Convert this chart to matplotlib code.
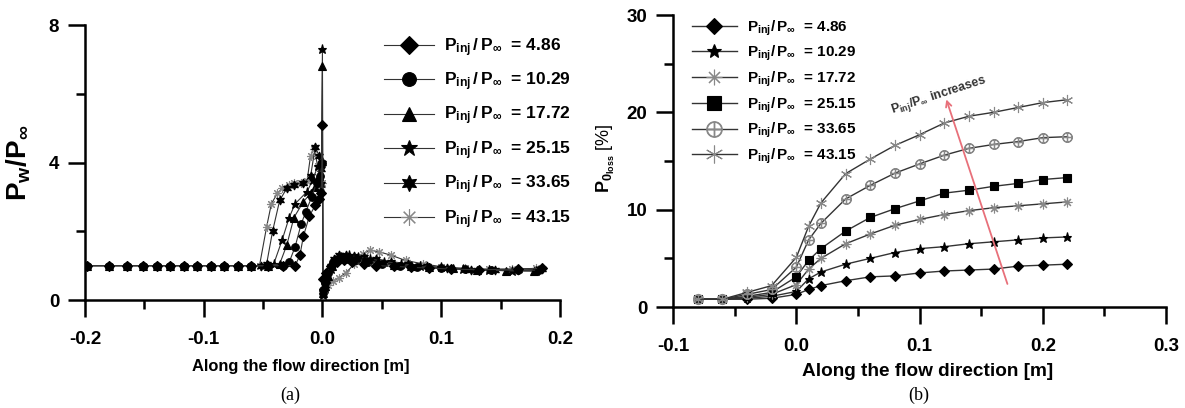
import numpy as np
import matplotlib
matplotlib.use("Agg")
import matplotlib.pyplot as plt
from matplotlib.ticker import AutoMinorLocator, MultipleLocator

plt.rcParams['font.family'] = ['Liberation Sans', 'DejaVu Sans']
plt.rcParams['font.weight'] = 'bold'
plt.rcParams['mathtext.fontset'] = 'custom'
plt.rcParams['mathtext.rm'] = 'Liberation Sans:bold'
plt.rcParams['mathtext.it'] = 'Liberation Sans:bold'
plt.rcParams['mathtext.bf'] = 'Liberation Sans:bold'
plt.rcParams['mathtext.default'] = 'bf'

# -------- (a) wall pressure ----------
ratios = ["4.86", "10.29", "17.72", "25.15", "33.65", "43.15"]

xu = [-0.198, -0.180, -0.165, -0.151, -0.139, -0.128, -0.117, -0.106,
      -0.094, -0.083, -0.071, -0.060]
yu = [1.0] * len(xu)

xa_486 = xu + [-0.046, -0.033, -0.023, -0.019, -0.016, -0.011, -0.006, -0.003, -0.001, 0.0,
               0.0004, 0.003, 0.007, 0.012, 0.018, 0.025, 0.035, 0.045, 0.06, 0.075,
               0.09, 0.108, 0.132, 0.165, 0.185]
ya_486 = yu + [1.0, 1.0, 1.0, 1.3, 1.86, 2.44, 2.76, 2.95, 3.1, 5.1,
               0.6, 0.8, 1.0, 1.1, 1.15, 1.1, 1.05, 1.0, 0.98, 0.95,
               0.93, 0.9, 0.88, 0.9, 0.92]

xa_1029 = xu + [-0.046, -0.033, -0.028, -0.023, -0.018, -0.014, -0.009, -0.005, -0.002, 0.0,
                0.0004, 0.002, 0.005, 0.009, 0.014, 0.02, 0.028, 0.038, 0.05, 0.065,
                0.08, 0.1, 0.12, 0.142, 0.165, 0.182]
ya_1029 = yu + [1.0, 1.0, 1.1, 1.55, 2.2, 2.57, 3.0, 3.4, 3.6, 4.0,
                0.3, 0.5, 0.8, 1.1, 1.2, 1.2, 1.15, 1.1, 1.05, 1.0,
                0.97, 0.93, 0.9, 0.88, 0.86, 0.87]

xa_1772 = xu + [-0.046, -0.036, -0.030, -0.024, -0.016, -0.010, -0.006, -0.003, -0.001, 0.0,
                0.0004, 0.002, 0.005, 0.008, 0.012, 0.018, 0.025, 0.035, 0.047, 0.06,
                0.075, 0.09, 0.11, 0.13, 0.155, 0.178]
ya_1772 = yu + [1.0, 1.05, 1.6, 2.4, 2.86, 3.1, 3.3, 3.6, 3.2, 6.8,
                0.2, 0.4, 0.7, 1.0, 1.2, 1.25, 1.2, 1.15, 1.1, 1.02,
                0.98, 0.95, 0.92, 0.88, 0.85, 0.84]

xa_2515 = xu + [-0.046, -0.041, -0.034, -0.028, -0.023, -0.013, -0.008, -0.004, -0.001, 0.0,
                0.0004, 0.002, 0.004, 0.007, 0.011, 0.016, 0.022, 0.03, 0.04, 0.052,
                0.066, 0.082, 0.1, 0.118, 0.14, 0.16, 0.18]
ya_2515 = yu + [1.0, 1.05, 1.74, 2.4, 2.8, 3.15, 3.5, 3.9, 3.4, 7.3,
                0.15, 0.35, 0.6, 0.9, 1.15, 1.25, 1.3, 1.25, 1.2, 1.12,
                1.05, 1.0, 0.95, 0.9, 0.87, 0.85, 0.85]

xa_3365 = xu + [-0.052, -0.047, -0.042, -0.036, -0.030, -0.024, -0.016, -0.010, -0.006, -0.003,
                -0.001, 0.0, 0.0004, 0.002, 0.004, 0.007, 0.010, 0.014, 0.02, 0.027,
                0.035, 0.045, 0.058, 0.072, 0.088, 0.105, 0.125, 0.145, 0.165, 0.185]
ya_3365 = yu + [1.0, 1.05, 2.0, 2.9, 3.25, 3.35, 3.4, 3.6, 4.46, 4.2,
                3.8, 4.0, 0.25, 0.45, 0.7, 1.0, 1.2, 1.3, 1.3, 1.28,
                1.25, 1.2, 1.12, 1.05, 0.98, 0.92, 0.88, 0.86, 0.87, 0.9]

xa_4315 = xu + [-0.053, -0.047, -0.043, -0.038, -0.034, -0.028, -0.024, -0.018, -0.013, -0.010,
                -0.007, -0.004, -0.001, 0.0, 0.0004, 0.002, 0.005, 0.009, 0.014, 0.02,
                0.027, 0.034, 0.04, 0.048, 0.058, 0.07, 0.085, 0.1, 0.12, 0.14,
                0.16, 0.18]
ya_4315 = yu + [1.0, 2.13, 2.8, 3.1, 3.25, 3.35, 3.41, 3.4, 3.45, 4.2,
                4.4, 3.9, 3.3, 3.4, 0.2, 0.3, 0.45, 0.55, 0.65, 0.8,
                1.05, 1.35, 1.45, 1.4, 1.3, 1.15, 1.05, 0.97, 0.92, 0.9,
                0.9, 0.92]

# -------- (b) total pressure loss ----------
xb = [-0.08, -0.06, -0.04, -0.02, 0.0, 0.01, 0.02, 0.04, 0.06, 0.08,
      0.10, 0.12, 0.14, 0.16, 0.18, 0.20, 0.22]
b_486 = [0.8, 0.8, 0.8, 0.9, 1.3, 1.8, 2.2, 2.7, 3.1, 3.2, 3.5, 3.7, 3.8, 3.9, 4.2, 4.3, 4.4]
b_1029 = [0.8, 0.8, 0.9, 1.1, 1.6, 2.9, 3.6, 4.4, 5.0, 5.6, 6.0, 6.2, 6.5, 6.7, 6.9, 7.1, 7.2]
b_1772 = [0.8, 0.8, 1.0, 1.3, 2.3, 3.9, 5.0, 6.5, 7.5, 8.4, 9.0, 9.5, 9.9, 10.2, 10.4, 10.6, 10.8]
b_2515 = [0.8, 0.8, 1.1, 1.5, 3.1, 4.8, 6.0, 7.8, 9.2, 10.1, 10.9, 11.7, 12.0, 12.4, 12.7, 13.1, 13.3]
b_3365 = [0.8, 0.8, 1.3, 1.8, 4.1, 6.9, 8.6, 11.1, 12.5, 13.75, 14.7, 15.6, 16.3, 16.7, 17.0, 17.4, 17.5]
b_4315 = [0.8, 0.8, 1.5, 2.2, 5.1, 8.3, 10.7, 13.7, 15.2, 16.6, 17.7, 18.9, 19.6, 20.0, 20.5, 21.0, 21.3]


def style_axes(ax):
    for s in ['top', 'right']:
        ax.spines[s].set_visible(False)
    for s in ['left', 'bottom']:
        ax.spines[s].set_linewidth(1.8)
    ax.xaxis.set_minor_locator(AutoMinorLocator(2))
    ax.yaxis.set_minor_locator(AutoMinorLocator(2))
    ax.tick_params(which='major', direction='out', length=12.5, width=1.8, labelsize=13.5)
    ax.tick_params(which='minor', direction='out', length=6.5, width=1.8)
    ax.tick_params(axis='x', which='major', pad=10)
    ax.tick_params(axis='y', which='major', pad=6)
    for lab in ax.get_xticklabels() + ax.get_yticklabels():
        lab.set_fontweight('bold')


fig = plt.figure(figsize=(11.85, 4.08), dpi=100)

# -------- Plot (a) ----------
ax1 = fig.add_axes([0.0717, 0.2647, 0.4008, 0.674])
a_x = [xa_486, xa_1029, xa_1772, xa_2515, xa_3365, xa_4315]
a_y = [ya_486, ya_1029, ya_1772, ya_2515, ya_3365, ya_4315]
a_mk = ['D', 'o', '^', '*', (6, 1, 0), (8, 2, 0)]
a_ms = [5, 5.5, 5.5, 6.5, 6.5, 6.5]
a_col = ['black', 'black', 'black', 'black', 'black', '#888888']
for i, (xs, ys, mk, ms, c, r) in enumerate(zip(a_x, a_y, a_mk, a_ms, a_col, ratios)):
    ax1.plot(xs, ys, color='#333333', linewidth=0.8, marker=mk, markersize=ms,
             markerfacecolor=c, markeredgecolor=c, markeredgewidth=0.8,
             zorder=10 - i, label=r'$P_{inj}\,/\,P_{\infty}$  = ' + r)
ax1.set_xlim(-0.2, 0.2)
ax1.set_ylim(0, 8)
ax1.xaxis.set_major_locator(MultipleLocator(0.1))
ax1.yaxis.set_major_locator(MultipleLocator(4))
ax1.xaxis.set_major_formatter(matplotlib.ticker.FormatStrFormatter('%.1f'))
style_axes(ax1)
ax1.set_xlabel("Along the flow direction [m]", fontsize=11.9, fontweight='bold')
ax1.xaxis.set_label_coords(0.455, -0.215)
ax1.set_ylabel(r'$P_w/P_\infty$', fontsize=20)
ax1.yaxis.set_label_coords(-0.11, 0.5)
ax1.legend(loc='upper left', bbox_to_anchor=(0.615, 0.985), frameon=False,
           fontsize=12.5, markerscale=1.8, handlelength=2.9, labelspacing=0.68,
           handletextpad=0.55, borderaxespad=0)

# -------- Plot (b) ----------
ax2 = fig.add_axes([0.568, 0.2475, 0.416, 0.7157])
b_y = [b_486, b_1029, b_1772, b_2515, b_3365, b_4315]
b_mk = ['D', '*', (8, 2, 0), 's', r'$\oplus$', (6, 2, 0)]
b_ms = [5, 6.5, 7, 6, 7, 8]
b_col = ['black', 'black', '#888888', 'black', '#888888', '#888888']
for ys, mk, ms, c, r in zip(b_y, b_mk, b_ms, b_col, ratios):
    ax2.plot(xb, ys, color='#333333', linewidth=1.0, marker=mk, markersize=ms,
             markerfacecolor=c, markeredgecolor=c, markeredgewidth=0.8,
             label=r'$P_{inj}/\,P_{\infty}$  = ' + r)
ax2.set_xlim(-0.1, 0.3)
ax2.set_ylim(0, 30)
ax2.xaxis.set_major_locator(MultipleLocator(0.1))
ax2.yaxis.set_major_locator(MultipleLocator(10))
ax2.xaxis.set_major_formatter(matplotlib.ticker.FormatStrFormatter('%.1f'))
style_axes(ax2)
ax2.set_xlabel("Along the flow direction [m]", fontsize=13.7, fontweight='bold')
ax2.xaxis.set_label_coords(0.517, -0.19)
ax2.set_ylabel(r'$P_{0_{loss}}$ [%]', fontsize=13)
ax2.yaxis.set_label_coords(-0.113, 0.51)
ax2.legend(loc='upper left', bbox_to_anchor=(0.025, 1.01), frameon=False,
           fontsize=11, markerscale=1.6, handlelength=3.0, labelspacing=0.42,
           handletextpad=0.6, borderaxespad=0)

ax2.annotate('', xy=(0.121, 21.6), xytext=(0.172, 2.1),
             arrowprops=dict(arrowstyle='->', color='#e8707a', lw=1.3))
ax2.text(0.078, 19.9, r'$P_{inj}/P_{\infty}$ increases', fontsize=9, rotation=18,
         color='#333333', fontweight='bold', rotation_mode='anchor')

fig.text(0.245, 0.032, '(a)', fontsize=13, fontweight='normal', family='Liberation Serif',
         ha='center', va='center')
fig.text(0.775, 0.032, '(b)', fontsize=13, fontweight='normal', family='Liberation Serif',
         ha='center', va='center')

plt.savefig("out.png", dpi=100)
